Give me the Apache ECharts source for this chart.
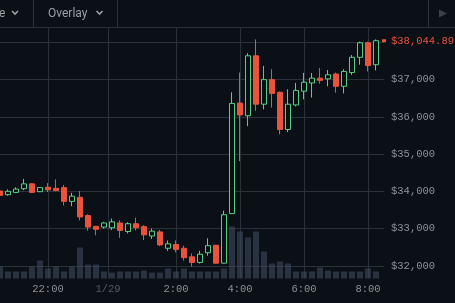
<!DOCTYPE html>
<html><head><meta charset="utf-8">
<script src="https://cdn.jsdelivr.net/npm/echarts@6/dist/echarts.min.js"></script>
<style>html,body{margin:0;padding:0;background:#0b0f16;}#c{width:455px;height:303px;}</style>
</head><body><div id="c"></div>
<script>
// 15-minute candles, 1/28 20:30 -> 1/29 08:15
const times = ['20:30','20:45','21:00','21:15','21:30','21:45','22:00','22:15','22:30','22:45','23:00','23:15','23:30','23:45',
  '00:00','00:15','00:30','00:45','01:00','01:15','01:30','01:45','02:00','02:15','02:30','02:45','03:00','03:15','03:30','03:45',
  '04:00','04:15','04:30','04:45','05:00','05:15','05:30','05:45','06:00','06:15','06:30','06:45','07:00','07:15','07:30','07:45',
  '08:00','08:15'];
const opens  = [34010,33910,33970,34070,34200,33990,34110,34080,34100,33730,33840,33350,33060,33040,33020,33150,32920,33130,33050,32800,
  32910,32470,32570,32470,32240,32090,32350,32550,32070,33400,36370,36030,37640,36340,37000,36660,35660,36320,36690,36910,
  37040,37020,37150,36820,37190,37600,37990,37400];
const closes = [33890,34000,34060,34200,33970,34100,34040,34020,33730,33870,33310,33040,32980,33150,33180,32950,33130,33020,32830,32930,
  32560,32590,32440,32220,32090,32310,32540,32070,33370,36360,36050,37640,36340,37000,36630,35660,36340,36710,36930,37040,
  36980,37130,36820,37220,37600,37990,37380,38044.89];
const lows   = [33800,33880,33950,34030,33950,33980,33980,34000,33620,33600,33220,32940,32820,33000,32960,32750,32870,32950,32690,32720,
  32530,32400,32360,32140,31980,32060,32270,32060,32060,33390,34810,35750,36160,36200,36250,35530,35590,36280,36470,36520,
  36890,36820,36650,36630,37130,37400,37220,37250];
const highs  = [34020,34050,34110,34330,34220,34110,34220,34320,34170,33960,34010,33380,33070,33180,33270,33220,33170,33290,33090,33000,
  32960,32680,32680,32540,32330,32400,32740,32560,33480,36660,37190,37710,38080,37370,37280,36680,36740,36910,37180,37180,
  37310,37260,37190,37280,37660,38020,38020,38080];
const volumes = [12,7,7,7,12,18,10,12,7,12,31,14,14,7,6,7,7,7,8,6,6,10,7,10,7,7,7,7,10,52,47,41,47,27,15,17,15,7,7,7,
  11,8,7,7,7,7,10,7];
const xTickPos = [6,13.5,22,30,38,46];
const xTickLabels = ['22:00','1/29','2:00','4:00','6:00','8:00'];
const yTicks = [32000,33000,34000,35000,36000,37000];
const priceTag = '$38,044.89';

const BG = '#0b0f16', GRID = '#2b313b', LBL = '#8b929b', UP = '#55d083', DOWN = '#e9533c';
const MONO = '"Liberation Mono", "DejaVu Sans Mono", monospace';

const candleData = opens.map((o, i) => [i, o, closes[i], lows[i], highs[i]]);
const volData = volumes.map((v, i) => [i, v]);
const fmt = v => '$' + String(v).replace(/\B(?=(\d{3})+(?!\d))/g, ',');

const chart = echarts.init(document.getElementById('c'), null, {renderer: 'canvas'});
chart.setOption({
  backgroundColor: BG,
  animation: false,
  grid: [
    {left: 0, right: 71, top: 27.5, bottom: -3.3},
    {left: 0, right: 71, top: 27.5, bottom: 24.5}
  ],
  xAxis: [
    {type: 'value', gridIndex: 0, min: 0, max: 48, show: false},
    {type: 'value', gridIndex: 1, min: 0, max: 48,
      axisLine: {show: false},
      axisTick: {show: false, customValues: xTickPos},
      splitLine: {show: true, lineStyle: {color: GRID, width: 1}},
      axisLabel: {customValues: xTickPos, margin: 5, color: LBL, fontFamily: MONO, fontSize: 10.5,
        formatter: v => { const k = xTickPos.indexOf(v); if (k < 0) return ''; return k === 1 ? '{d|' + xTickLabels[k] + '}' : xTickLabels[k]; },
        rich: {d: {color: '#545b65', fontFamily: MONO, fontSize: 10.5}}}
    }
  ],
  yAxis: [
    {type: 'value', gridIndex: 0, position: 'right', min: 31000, max: 38400, interval: 1000,
      axisLine: {show: false}, axisTick: {show: false},
      splitLine: {show: true, lineStyle: {color: GRID, width: 1}},
      axisLabel: {margin: 7, color: LBL, fontFamily: MONO, fontSize: 10.5,
        formatter: v => yTicks.includes(v) ? fmt(v) : ''}
    },
    {type: 'value', gridIndex: 1, min: 0, max: 251, show: false}
  ],
  series: [
    {type: 'bar', xAxisIndex: 1, yAxisIndex: 1, data: volData, barWidth: 6, z: 1,
      itemStyle: {color: 'rgba(62,74,94,0.6)'}, silent: true},
    {type: 'candlestick', xAxisIndex: 0, yAxisIndex: 0, z: 3,
      dimensions: ['idx', 'open', 'close', 'lowest', 'highest'],
      encode: {x: 0, y: [1, 2, 3, 4]},
      data: candleData, barWidth: 5,
      itemStyle: {color: BG, color0: DOWN, borderColor: UP, borderColor0: DOWN, borderWidth: 1},
      markPoint: {
        silent: true, animation: false,
        data: [{coord: [48, closes[closes.length - 1]], symbol: 'rect', symbolSize: [4, 3],
          itemStyle: {color: DOWN},
          label: {show: true, position: 'right', distance: 5, formatter: priceTag,
            color: DOWN, fontFamily: MONO, fontSize: 10.5}}]
      }
    }
  ],
  graphic: [
    {type: 'line', z: 100, shape: {x1: 0, y1: 27.5, x2: 455, y2: 27.5}, style: {stroke: GRID, lineWidth: 1}},
    {type: 'line', z: 100, shape: {x1: 33.5, y1: 0, x2: 33.5, y2: 27}, style: {stroke: GRID, lineWidth: 1}},
    {type: 'line', z: 100, shape: {x1: 117.5, y1: 0, x2: 117.5, y2: 27}, style: {stroke: GRID, lineWidth: 1}},
    {type: 'line', z: 100, shape: {x1: 428.5, y1: 0, x2: 428.5, y2: 27}, style: {stroke: GRID, lineWidth: 1}},
    {type: 'text', z: 100, x: -1, y: 13.5, style: {text: 'e', fill: '#9aa1a9', font: '12px Roboto', verticalAlign: 'middle'}},
    {type: 'polyline', z: 100, shape: {points: [[12, 11], [15, 14], [18, 11]]}, style: {stroke: '#9aa1a9', lineWidth: 1.6, fill: null}},
    {type: 'text', z: 100, x: 48, y: 13.5, style: {text: 'Overlay', fill: '#9aa1a9', font: '12px Roboto', verticalAlign: 'middle'}},
    {type: 'polyline', z: 100, shape: {points: [[96.5, 11], [99.5, 14], [102.5, 11]]}, style: {stroke: '#9aa1a9', lineWidth: 1.6, fill: null}},
    {type: 'polygon', z: 100, shape: {points: [[439, 9.5], [447, 13.5], [439, 17.5]]}, style: {fill: '#3a414c'}}
  ]
});
</script></body></html>
